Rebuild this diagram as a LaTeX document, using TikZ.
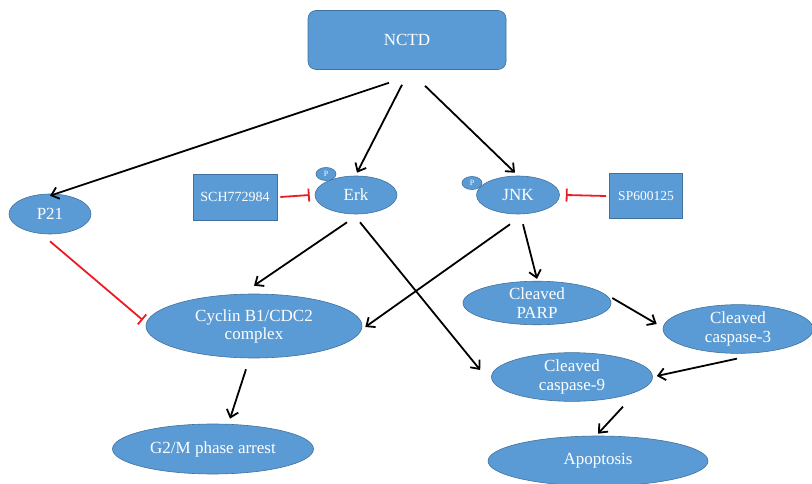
\documentclass[tikz,border=0pt]{standalone}
\usepackage{fontspec}
\setmainfont{Liberation Serif}
\usetikzlibrary{arrows.meta,calc,shapes.geometric}
\definecolor{nodefill}{HTML}{5B9BD5}
\definecolor{nodeline}{HTML}{41719C}
\definecolor{inhib}{HTML}{ED1C24}
\tikzset{
  base/.style={fill=nodefill,draw=nodeline,line width=0.6pt,text=white,align=center,inner sep=0pt,font=\fontsize{17}{17}\selectfont},
  ell/.style={base,ellipse},
  box/.style={base,rectangle,font=\fontsize{14}{14}\selectfont},
  pdot/.style={base,ellipse,font=\fontsize{8}{8}\selectfont,minimum width=20pt,minimum height=13pt},
  act/.style={line width=1.8pt,-{Straight Barb[length=7pt,width=12pt,line width=1.8pt]}},
  inh/.style={line width=1.8pt,draw=inhib,-{Bar[width=13pt,line width=1.8pt]}}
}
\begin{document}
\begin{tikzpicture}[x=1pt,y=-1pt]
\useasboundingbox (0,0) rectangle (812,484);
\node[base,rectangle,rounded corners=8pt,minimum width=198pt,minimum height=59pt] (nctd) at (407,40) {NCTD};
\node[ell,minimum width=82pt,minimum height=40pt] (p21) at (50,214) {P21};
\node[box,minimum width=84pt,minimum height=46pt] (sch) at (235,197) {SCH772984};
\node[ell,minimum width=82pt,minimum height=38pt] (erk) at (356,195) {Erk};
\node[pdot] (perk) at (326,174) {P};
\node[ell,minimum width=83pt,minimum height=38pt] (jnk) at (518,195) {JNK};
\node[pdot] (pjnk) at (472,183) {P};
\node[box,font=\fontsize{13.5}{13.5}\selectfont,minimum width=73pt,minimum height=45pt] (sp) at (646,196) {SP600125};
\node[ell,minimum width=216pt,minimum height=64pt] (cyc) at (254,326) {Cyclin B1/CDC2\\[1pt]complex};
\node[ell,minimum width=201pt,minimum height=50pt] (g2m) at (213,449) {G2/M phase arrest};
\node[ell,minimum width=148pt,minimum height=40pt] (parp) at (537,303) {Cleaved\\[2pt]PARP};
\node[ell,minimum width=150pt,minimum height=44pt] (cas3) at (738,329) {Cleaved\\[2pt]caspase-3};
\node[ell,minimum width=161pt,minimum height=40pt] (cas9) at (572,377) {Cleaved\\[2pt]caspase-9};
\node[ell,minimum width=220pt,minimum height=50pt] (apo) at (598,461) {Apoptosis};

\draw[act] ($(nctd.south)+(-18,13)$) -- ($(p21.north)+(0,2)$);
\draw[act] ($(nctd.south)+(-5,15)$) -- ($(erk.north)+(1,-3)$);
\draw[act] ($(nctd.south)+(18,16)$) -- ($(jnk.north)+(-3,-3)$);
\draw[inh] ($(sch.east)+(3,0)$) -- ($(erk.west)+(-5,0)$);
\draw[inh] ($(sp.west)+(-3,0)$) -- ($(jnk.east)+(6,0)$);
\draw[inh] ($(p21.south)+(0,7)$) -- ($(cyc.west)+(-3,-6)$);
\draw[act] ($(erk.south)+(-9,8)$) -- ($(cyc.north)+(0,-8)$);
\draw[act] ($(erk.south)+(4,8)$) -- ($(cas9.west)+(-11,-7)$);
\draw[act] ($(jnk.south)+(-8,10)$) -- ($(cyc.east)+(3,1)$);
\draw[act] ($(jnk.south)+(5,10)$) -- ($(parp.north)+(0,-2)$);
\draw[act] ($(parp.east)+(1,-5)$) -- ($(cas3.west)+(-6,-5)$);
\draw[act] ($(cas3.south)+(-1,5)$) -- ($(cas9.east)+(4,-1)$);
\draw[act] ($(cyc.south)+(-8,11)$) -- ($(g2m.north)+(17,-5)$);
\draw[act] ($(cas9.south)+(51,5)$) -- ($(apo.north)+(0,-2)$);
\end{tikzpicture}
\end{document}
